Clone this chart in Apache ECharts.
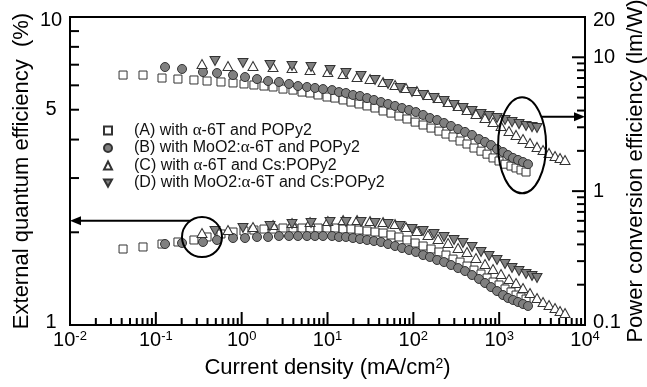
<!DOCTYPE html>
<html>
<head>
<meta charset="utf-8">
<script src="https://cdn.jsdelivr.net/npm/echarts@6/dist/echarts.min.js"></script>
<style>
  html, body { margin: 0; padding: 0; background: #fff; }
  #chart { width: 647px; height: 387px; }
</style>
</head>
<body>
<div id="chart"></div>
<script>
// Device labels
const deviceNames = [
  '(A) with α-6T and POPy2',
  '(B) with MoO2:α-6T and POPy2',
  '(C) with α-6T and Cs:POPy2',
  '(D) with MoO2:α-6T and Cs:POPy2'
];

// Current density (mA/cm2)
const jA = [0.0415, 0.0709, 0.118, 0.181, 0.278, 0.395, 0.574, 0.793, 1.065, 1.39,
  1.82, 2.32, 3.03, 3.96, 5.05, 6.26, 7.76, 9.87, 12.2, 15.2,
  18.8, 23.3, 28.9, 35.8, 44.4, 55.0, 68.1, 84.4, 105, 130,
  161, 199, 240, 290, 350, 422, 509, 614, 722, 848,
  996, 1170, 1374, 1572, 1797, 2055];
const jB = [0.128, 0.202, 0.354, 0.516, 0.793, 1.094, 1.509, 2.03, 2.72, 3.56,
  4.53, 5.77, 7.15, 8.87, 11.3, 13.6, 16.4, 19.8, 23.9, 28.9,
  34.8, 42.0, 50.7, 61.2, 73.8, 89.1, 107, 130, 156, 189,
  228, 275, 332, 400, 483, 582, 684, 804, 944, 1109,
  1268, 1450, 1658, 1896, 2169];
const jC = [0.345, 0.693, 1.355, 2.32, 3.86, 6.26, 10.1, 15.2, 22.1, 31.3,
  44.4, 61.2, 82.2, 110, 148, 194, 254, 332, 422, 537,
  684, 848, 1051, 1302, 1572, 1896, 2288, 2761, 3243, 3809,
  4474, 5117, 5851];
const jD = [0.489, 1.036, 2.14, 3.86, 6.43, 10.7, 16.4, 24.6, 35.8, 50.7,
  70.0, 96.5, 130, 174, 228, 298, 379, 483, 615, 762,
  944, 1170, 1412, 1703, 2056, 2414, 2761];

// Power conversion efficiency (lm/W)
const peA = [7.37, 7.37, 7.00, 6.88, 6.77, 6.65, 6.54, 6.43, 6.32, 6.21,
  6.10, 6.00, 5.79, 5.69, 5.50, 5.41, 5.23, 5.05, 4.96, 4.80,
  4.63, 4.48, 4.33, 4.18, 3.97, 3.83, 3.64, 3.46, 3.28, 3.12,
  2.96, 2.81, 2.67, 2.54, 2.37, 2.25, 2.10, 1.99, 1.89, 1.77,
  1.68, 1.59, 1.54, 1.49, 1.44, 1.39];
const peB = [8.46, 8.18, 7.76, 7.63, 7.37, 7.12, 6.88, 6.65, 6.54, 6.32,
  6.10, 6.00, 5.90, 5.79, 5.69, 5.50, 5.41, 5.23, 5.14, 4.96,
  4.80, 4.63, 4.48, 4.33, 4.18, 4.04, 3.90, 3.71, 3.52, 3.40,
  3.23, 3.07, 2.91, 2.77, 2.63, 2.45, 2.33, 2.21, 2.06, 1.96,
  1.86, 1.77, 1.71, 1.65, 1.59];
const peC = [8.91, 8.61, 8.61, 8.46, 8.32, 8.04, 7.76, 7.50, 7.12, 6.88,
  6.54, 6.21, 5.90, 5.60, 5.23, 4.96, 4.63, 4.33, 4.04, 3.77,
  3.52, 3.28, 3.07, 2.81, 2.63, 2.45, 2.29, 2.14, 2.03, 1.93,
  1.83, 1.77, 1.71];
const peD = [9.38, 9.06, 8.76, 8.61, 8.46, 8.04, 7.63, 7.25, 6.77, 6.32,
  5.90, 5.50, 5.23, 4.96, 4.71, 4.40, 4.18, 3.97, 3.77, 3.64,
  3.52, 3.40, 3.28, 3.17, 3.07, 3.01, 2.96];

// External quantum efficiency (%)
const eqeA = [1.765, 1.792, 1.832, 1.860, 1.888, 1.931, 1.975, 2.004, 2.019, 2.034,
  2.049, 2.049, 2.065, 2.065, 2.065, 2.065, 2.065, 2.065, 2.065, 2.049,
  2.049, 2.034, 2.019, 2.004, 1.989, 1.960, 1.931, 1.888, 1.846, 1.805,
  1.765, 1.726, 1.687, 1.637, 1.601, 1.554, 1.508, 1.464, 1.421, 1.379,
  1.349, 1.309, 1.280, 1.251, 1.233, 1.214];
const eqeB = [1.832, 1.846, 1.860, 1.888, 1.916, 1.916, 1.931, 1.931, 1.945, 1.945,
  1.945, 1.945, 1.945, 1.945, 1.945, 1.931, 1.931, 1.916, 1.902, 1.888,
  1.874, 1.860, 1.832, 1.805, 1.778, 1.752, 1.726, 1.687, 1.663, 1.626,
  1.601, 1.566, 1.531, 1.497, 1.453, 1.411, 1.369, 1.328, 1.289, 1.251,
  1.224, 1.206, 1.188, 1.170, 1.153];
const eqeC = [1.989, 2.034, 2.081, 2.112, 2.144, 2.160, 2.176, 2.193, 2.193, 2.176,
  2.160, 2.128, 2.081, 2.019, 1.960, 1.902, 1.846, 1.778, 1.726, 1.650,
  1.578, 1.520, 1.464, 1.411, 1.369, 1.318, 1.270, 1.224, 1.188, 1.161,
  1.135, 1.110, 1.094];
const eqeD = [2.019, 2.065, 2.096, 2.128, 2.144, 2.160, 2.160, 2.160, 2.144, 2.128,
  2.096, 2.049, 2.019, 1.975, 1.931, 1.888, 1.846, 1.792, 1.726, 1.675,
  1.626, 1.578, 1.531, 1.497, 1.464, 1.443, 1.421];

// Axis ranges and labelled values
const xRange = [0.01, 10000];
const eqeRange = [1, 10];
const peRange = [0.1, 20];
const eqeTickLabels = [1, 5, 10];
const peTickLabels = [0.1, 1, 10, 20];

// Annotations: ellipse on the PE branch, circle on the EQE branch
const peNote = { center: [1850, 2.2], rx: 24, ry: 48, arrowAt: 3.6 };
const eqeNote = { center: [0.345, 1.93], r: 20, arrowAt: 2.18 };

const FONT = 'Liberation Sans, Arial, sans-serif';
const GRAY = '#808080';
const EDGE = '#333';

const markers = [
  { symbol: 'rect', size: 8, fill: '#fff' },
  { symbol: 'circle', size: 9, fill: GRAY },
  { symbol: 'triangle', size: [10, 9], fill: '#fff' },
  { symbol: 'path://M0,0L10,0L5,9Z', size: [10, 9], fill: GRAY }
];
const jSets = [jA, jB, jC, jD];
const peSets = [peA, peB, peC, peD];
const eqeSets = [eqeA, eqeB, eqeC, eqeD];

function scatter(k, xs, ys, yAxisIndex) {
  const m = markers[k];
  return {
    type: 'scatter', name: deviceNames[k], xAxisIndex: 0, yAxisIndex,
    symbol: m.symbol, symbolSize: m.size, silent: true,
    itemStyle: { color: m.fill, borderColor: EDGE, borderWidth: 1, opacity: 1 },
    data: xs.map((x, i) => [x, ys[i]]),
    z: 3
  };
}

// Log-axis tick marks drawn through the axis scales
function logTicks(lo, hi) {
  const out = [];
  for (let e = Math.floor(Math.log10(lo) + 1e-9); e <= Math.ceil(Math.log10(hi) - 1e-9); e++) {
    for (let k = 1; k <= 9; k++) {
      const v = +(k * Math.pow(10, e)).toPrecision(6);
      if (v >= lo * 0.999 && v <= hi * 1.001) out.push([v, k === 1]);
    }
  }
  return out;
}
function tickSeries(yAxisIndex, items) {
  return {
    type: 'custom', xAxisIndex: 0, yAxisIndex, silent: true, clip: false, z: 6,
    encode: { x: 0, y: 1 },
    data: items,
    renderItem(params, api) {
      const p = api.coord([api.value(0), api.value(1)]);
      const len = api.value(2), dir = api.value(3);
      let x2 = p[0], y2 = p[1];
      if (dir === 0) y2 -= len; else if (dir === 1) x2 += len; else x2 -= len;
      return { type: 'line', shape: { x1: p[0], y1: p[1], x2, y2 },
        style: { stroke: '#000', lineWidth: 2 } };
    }
  };
}
const xTickItems = logTicks(xRange[0], xRange[1]).map(([v, major]) => [v, eqeRange[0], major ? 13 : 7, 0]);
const eqeTickItems = logTicks(eqeRange[0], eqeRange[1]).map(([v, major]) => [xRange[0], v, 9, 1]);
const peTickItems = logTicks(peRange[0], peRange[1]).map(([v, major]) => [xRange[1], v, major ? 13 : 8, 2]);

const series = [];
for (let k = 0; k < 4; k++) {
  series.push(scatter(k, jSets[k], peSets[k], 1));
  series.push(scatter(k, jSets[k], eqeSets[k], 0));
}
series.push(tickSeries(0, xTickItems), tickSeries(0, eqeTickItems), tickSeries(1, peTickItems));

// End labels of the y axes sit just inside the frame
function yLabel(range) {
  return v => {
    const s = String(+(+v).toPrecision(3));
    if (Math.abs(v - range[1]) < 1e-9 * range[1]) return '{hi|' + s + '}';
    if (Math.abs(v - range[0]) < 1e-9 * range[1]) return '{lo|' + s + '}';
    return '{n|' + s + '}';
  };
}
const yRich = {
  n: { fontFamily: FONT, fontSize: 20, color: '#000' },
  hi: { fontFamily: FONT, fontSize: 20, color: '#000', padding: [7, 0, 0, 0] },
  lo: { fontFamily: FONT, fontSize: 20, color: '#000', padding: [0, 0, 6, 0] }
};

const chart = echarts.init(document.getElementById('chart'), null, { renderer: 'canvas' });
chart.setOption({
  animation: false,
  backgroundColor: '#fff',
  textStyle: { fontFamily: FONT, color: '#000' },
  grid: {
    left: 70, right: 62, top: 17, bottom: 62, containLabel: false, outerBoundsMode: 'none',
    show: true, borderColor: '#000', borderWidth: 2, backgroundColor: 'transparent'
  },
  legend: {
    data: deviceNames, orient: 'vertical', left: 98, top: 117,
    itemWidth: 8, itemHeight: 8, itemGap: 0.5, selectedMode: false,
    formatter: n => n.replace('α', '{g|α}'),
    textStyle: {
      fontFamily: FONT, fontSize: 16, color: '#111', lineHeight: 16, padding: [0, 0, 0, 17],
      rich: { g: { fontFamily: 'Liberation Serif, serif', fontSize: 17, lineHeight: 16, color: '#111' } }
    }
  },
  xAxis: {
    type: 'log', logBase: 10, min: xRange[0], max: xRange[1],
    axisLine: { show: false }, axisTick: { show: false }, splitLine: { show: false },
    axisLabel: {
      margin: 5,
      formatter: v => '{b|10}{s|' + Math.round(Math.log10(v)) + '}',
      rich: {
        b: { fontFamily: FONT, fontSize: 20, color: '#000', lineHeight: 20, padding: [6, 0, 0, 0], verticalAlign: 'bottom' },
        s: { fontFamily: FONT, fontSize: 13, color: '#000', lineHeight: 13, verticalAlign: 'top' }
      }
    },
    name: '{t|Current density (mA/cm}{s|2}{t|)}',
    nameLocation: 'middle', nameGap: 32, nameMoveOverlap: false,
    nameTextStyle: {
      rich: {
        t: { fontFamily: FONT, fontSize: 22, color: '#000', lineHeight: 22, verticalAlign: 'bottom' },
        s: { fontFamily: FONT, fontSize: 14, color: '#000', lineHeight: 14, verticalAlign: 'top' }
      }
    }
  },
  yAxis: [
    {
      type: 'log', logBase: 10, min: eqeRange[0], max: eqeRange[1], position: 'left',
      axisLine: { show: false }, axisTick: { show: false }, splitLine: { show: false },
      axisLabel: { customValues: eqeTickLabels, margin: 19, align: 'center',
        formatter: yLabel(eqeRange), rich: yRich },
      name: 'External quantum efficiency  (%)', nameLocation: 'middle', nameGap: 37, nameMoveOverlap: false,
      nameTextStyle: { fontFamily: FONT, fontSize: 22, color: '#000' }
    },
    {
      type: 'log', logBase: 10, min: peRange[0], max: peRange[1], position: 'right',
      axisLine: { show: false }, axisTick: { show: false }, splitLine: { show: false },
      axisLabel: { customValues: peTickLabels, margin: 8,
        formatter: yLabel(peRange), rich: yRich },
      name: 'Power conversion efficiency (lm/W)', nameLocation: 'middle', nameGap: 40, nameMoveOverlap: false,
      nameTextStyle: { fontFamily: FONT, fontSize: 22, color: '#000' }
    }
  ],
  series
});

// Ellipse / circle call-outs with arrows pointing to the axis each branch belongs to
function arrowHead(tipX, tipY, dir) {
  const L = 11, W = 4.5;
  return { type: 'polygon', z: 20, silent: true,
    shape: { points: [[tipX, tipY], [tipX - dir * L, tipY - W], [tipX - dir * L, tipY + W]] },
    style: { fill: '#000' } };
}
function drawNotes() {
  const pe = v => chart.convertToPixel({ xAxisIndex: 0, yAxisIndex: 1 }, v);
  const eqe = v => chart.convertToPixel({ xAxisIndex: 0, yAxisIndex: 0 }, v);
  const [ex, ey] = pe(peNote.center);
  const ay = pe([peNote.center[0], peNote.arrowAt])[1];
  const rightX = pe([xRange[1], peNote.arrowAt])[0];
  const dy = (ay - ey) / peNote.ry;
  const ax0 = ex + peNote.rx * Math.sqrt(Math.max(0, 1 - dy * dy));

  const [cx, cy] = eqe(eqeNote.center);
  const by = eqe([eqeNote.center[0], eqeNote.arrowAt])[1];
  const leftX = eqe([xRange[0], eqeNote.arrowAt])[0];
  const bx0 = cx - Math.sqrt(Math.max(0, eqeNote.r * eqeNote.r - (by - cy) * (by - cy)));

  chart.setOption({
    graphic: [
      { type: 'ellipse', z: 20, silent: true, shape: { cx: ex, cy: ey, rx: peNote.rx, ry: peNote.ry },
        style: { fill: 'none', stroke: '#000', lineWidth: 2 } },
      { type: 'line', z: 20, silent: true, shape: { x1: ax0, y1: ay, x2: rightX - 8, y2: ay },
        style: { stroke: '#000', lineWidth: 2 } },
      arrowHead(rightX, ay, 1),
      { type: 'circle', z: 20, silent: true, shape: { cx, cy, r: eqeNote.r },
        style: { fill: 'none', stroke: '#000', lineWidth: 2 } },
      { type: 'line', z: 20, silent: true, shape: { x1: bx0, y1: by, x2: leftX + 8, y2: by },
        style: { stroke: '#000', lineWidth: 2 } },
      arrowHead(leftX, by, -1)
    ]
  });
}
drawNotes();
</script>
</body>
</html>
